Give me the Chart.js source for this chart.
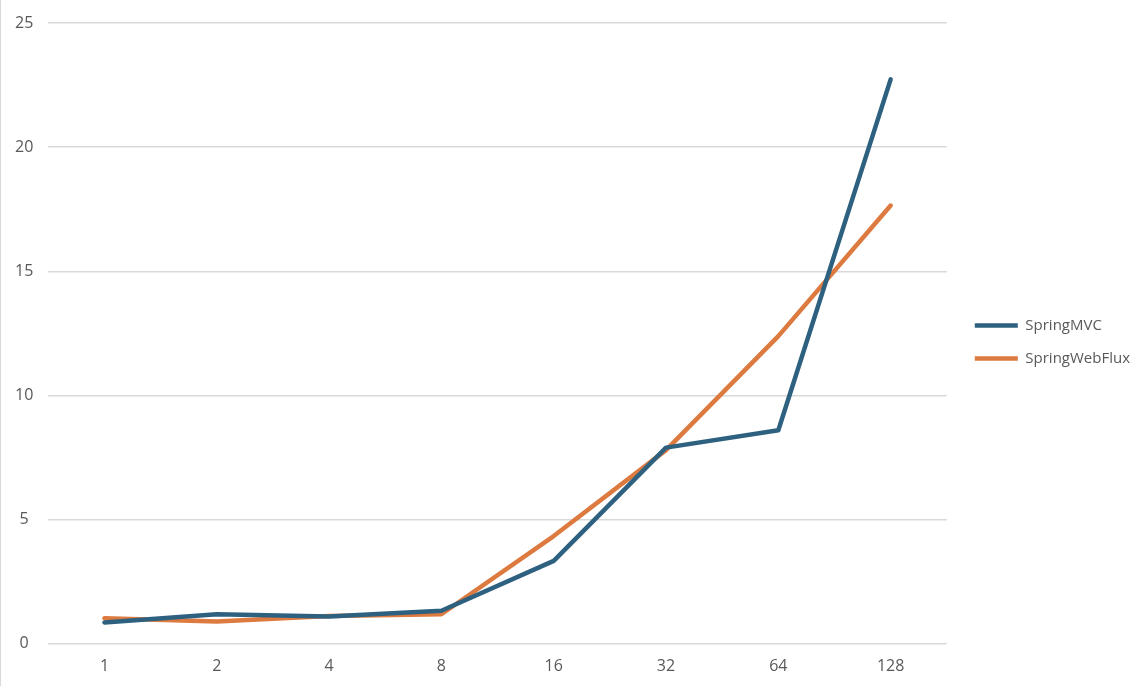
<!DOCTYPE html>
<html>
<head>
<meta charset="utf-8">
<script src="https://cdn.jsdelivr.net/npm/chart.js@4"></script>
<style>
  body { margin: 0; background: #ffffff; }
  #wrap { width: 1146px; height: 686px; position: relative; }
  #wrap::before { content: ""; position: absolute; left: 0; top: 0; width: 1px; height: 686px; background: #d9d9d9; }
</style>
</head>
<body>
<div id="wrap"><canvas id="perfChart" width="1146" height="686"></canvas></div>
<script>
// x categories (concurrency) and series values
const categories = ["1", "2", "4", "8", "16", "32", "64", "128"];
const springMvc = [0.86, 1.19, 1.1, 1.33, 3.34, 7.9, 8.6, 22.73];
const springWebFlux = [1.03, 0.9, 1.12, 1.19, 4.34, 7.8, 12.39, 17.65];
const yTicks = [0, 5, 10, 15, 20, 25];

// push the legend a little to the right, away from the plot
const legendNudge = {
    id: "legendNudge",
    afterLayout: function (chart) {
        if (chart.legend) {
            chart.legend.left += 10;
            chart.legend.right += 10;
        }
    }
};

document.addEventListener("DOMContentLoaded", function () {
    const ctx = document.getElementById("perfChart").getContext("2d");

    new Chart(ctx, {
        type: "line",
        data: {
            labels: categories,
            datasets: [{
                label: "SpringMVC",
                data: springMvc,
                borderColor: "#2e6180",
                backgroundColor: "#2e6180",
                borderWidth: 4.5,
                borderCapStyle: "round",
                borderJoinStyle: "round",
                pointRadius: 0,
                tension: 0
            }, {
                label: "SpringWebFlux",
                data: springWebFlux,
                borderColor: "#dd7a3f",
                backgroundColor: "#dd7a3f",
                borderWidth: 4.5,
                borderCapStyle: "round",
                borderJoinStyle: "round",
                pointRadius: 0,
                tension: 0
            }]
        },
        plugins: [legendNudge],
        options: {
            responsive: false,
            animation: false,
            layout: { padding: { top: 3, right: 16, left: 0, bottom: 5 } },
            plugins: {
                tooltip: { enabled: false },
                legend: {
                    position: "right",
                    labels: {
                        usePointStyle: true,
                        pointStyle: "line",
                        pointStyleWidth: 43,
                        padding: 18,
                        color: "#595959",
                        font: { family: "'Open Sans', sans-serif", size: 15 }
                    }
                }
            },
            scales: {
                x: {
                    offset: true,
                    grid: { display: false },
                    border: { display: false },
                    ticks: {
                        color: "#595959",
                        padding: 5,
                        font: { family: "'Open Sans', sans-serif", size: 16 }
                    }
                },
                y: {
                    min: 0,
                    max: 25,
                    afterBuildTicks: function (axis) {
                        axis.ticks = yTicks.map(function (v) { return { value: v }; });
                    },
                    grid: { color: "#d9d9d9", lineWidth: 1.5, drawTicks: false },
                    border: { display: false },
                    ticks: {
                        color: "#595959",
                        padding: 15,
                        crossAlign: "center",
                        font: { family: "'Open Sans', sans-serif", size: 16, lineHeight: 1 }
                    }
                }
            }
        }
    });
});
</script>
</body>
</html>
